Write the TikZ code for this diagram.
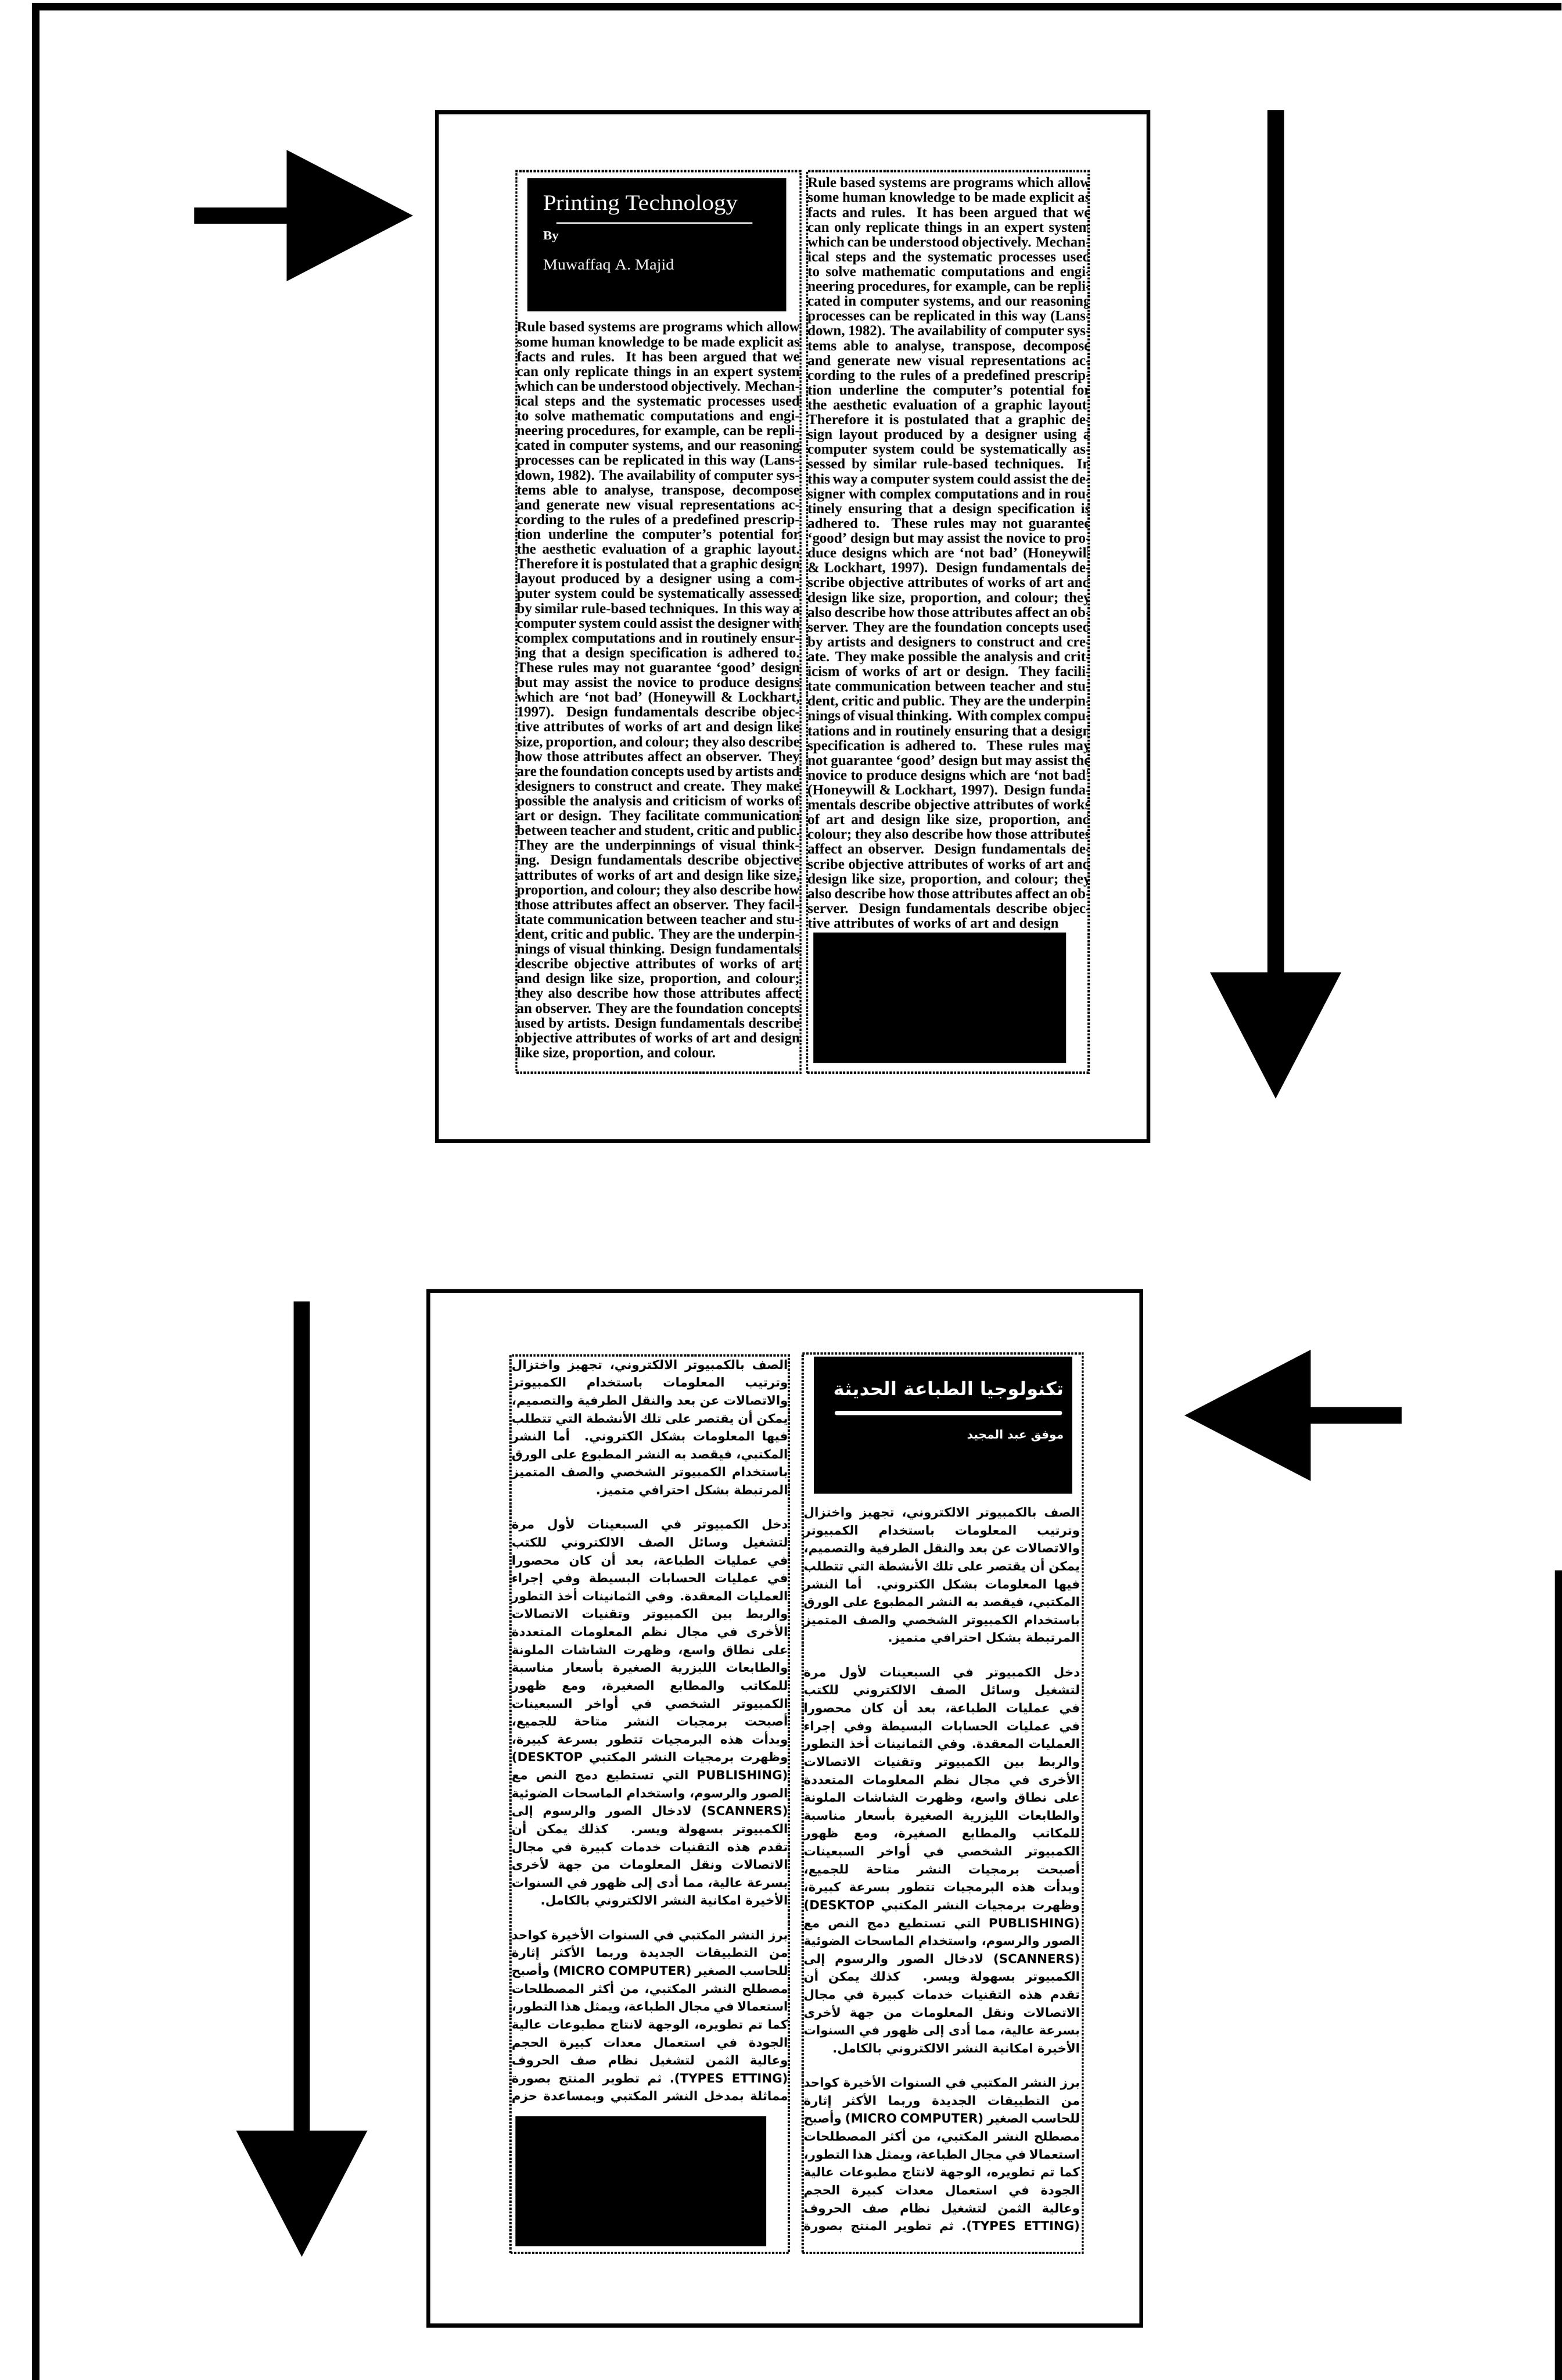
\documentclass[tikz,border=0pt]{standalone}
\usepackage{fontspec}
\setmainfont{Liberation Serif}
\newfontfamily\arabicfont[Script=Arabic]{DejaVu Sans}
\newfontfamily\titlefont[FakeStretch=1.08]{Liberation Serif}
\TeXXeTstate=1
\usetikzlibrary{arrows.meta}

% the same english text runs in both columns of the first page
\newcommand\rulebased{Rule based systems are programs which allow some human knowledge to be made explicit as facts and rules. It has been argued that we can only replicate things in an expert system which can be understood objectively. Mechanical steps and the systematic processes used to solve mathematic computations and engineering procedures, for example, can be replicated in computer systems, and our reasoning processes can be replicated in this way (Lansdown, 1982). The availability of computer systems able to analyse, transpose, decompose and generate new visual representations according to the rules of a predefined prescription underline the computer's potential for the aesthetic evaluation of a graphic layout. Therefore it is postulated that a graphic design layout produced by a designer using a computer system could be systematically assessed by similar rule-based techniques. In this way a computer system could assist the designer with complex computations and in routinely ensuring that a design specification is adhered to. These rules may not guarantee `good' design but may assist the novice to produce designs which are `not bad' (Honeywill \& Lockhart, 1997). Design fundamentals describe objective attributes of works of art and design like size, proportion, and colour; they also describe how those attributes affect an observer. They are the foundation concepts used by artists and designers to construct and create. They make possible the analysis and criticism of works of art or design. They facilitate communication between teacher and student, critic and public. They are the underpinnings of visual thinking.}
\newcommand\fundamentals{Design fundamentals describe objective attributes of works of art and design like size, proportion, and colour; they also describe how those attributes affect an observer. They facilitate communication between teacher and student, critic and public. They are the underpinnings of visual thinking. Design fundamentals describe objective attributes of works of art and design like size, proportion, and colour; they also describe how those attributes affect an observer. They are the foundation concepts used by artists. Design fundamentals describe objective attributes of works of art and design like size, proportion, and colour.}
\newcommand\adheredto{With complex computations and in routinely ensuring that a design specification is adhered to. These rules may not guarantee `good' design but may assist the novice to produce designs which are `not bad' (Honeywill \& Lockhart, 1997). Design fundamentals describe objective attributes of works of art and design like size, proportion, and colour; they also describe how those attributes affect an observer. Design fundamentals describe objective attributes of works of art and design like size, proportion, and colour; they also describe how those attributes affect an observer. Design fundamentals describe objective attributes of works of art and design}

% the same arabic text runs in both columns of the second page
\newcommand\arabicone{\noindent\beginR الصف بالكمبيوتر الالكتروني، تجهيز واختزال وترتيب المعلومات باستخدام الكمبيوتر والاتصالات عن بعد والنقل الطرفية والتصميم، يمكن أن يقتصر على تلك الأنشطة التي تتطلب فيها المعلومات بشكل الكتروني. أما النشر المكتبي، فيقصد به النشر المطبوع على الورق باستخدام الكمبيوتر الشخصي والصف المتميز المرتبطة بشكل احترافي متميز.\par}
\newcommand\arabictwo{\noindent\beginR دخل الكمبيوتر في السبعينات لأول مرة لتشغيل وسائل الصف الالكتروني للكتب في عمليات الطباعة، بعد أن كان محصورا في عمليات الحسابات البسيطة وفي إجراء العمليات المعقدة. وفي الثمانينات أخذ التطور والربط بين الكمبيوتر وتقنيات الاتصالات الأخرى في مجال نظم المعلومات المتعددة على نطاق واسع، وظهرت الشاشات الملونة والطابعات الليزرية الصغيرة بأسعار مناسبة للمكاتب والمطابع الصغيرة، ومع ظهور الكمبيوتر الشخصي في أواخر السبعينات أصبحت برمجيات النشر متاحة للجميع، وبدأت هذه البرمجيات تتطور بسرعة كبيرة، وظهرت برمجيات النشر المكتبي \beginL(DESKTOP PUBLISHING)\endL{} التي تستطيع دمج النص مع الصور والرسوم، واستخدام الماسحات الضوئية \beginL(SCANNERS)\endL{} لادخال الصور والرسوم إلى الكمبيوتر بسهولة ويسر. كذلك يمكن أن تقدم هذه التقنيات خدمات كبيرة في مجال الاتصالات ونقل المعلومات من جهة لأخرى بسرعة عالية، مما أدى إلى ظهور في السنوات الأخيرة امكانية النشر الالكتروني بالكامل.\par}
\newcommand\arabicthree{\noindent\beginR برز النشر المكتبي في السنوات الأخيرة كواحد من التطبيقات الجديدة وربما الأكثر إثارة للحاسب الصغير \beginL(MICRO COMPUTER)\endL{} وأصبح مصطلح النشر المكتبي، من أكثر المصطلحات استعمالا في مجال الطباعة، ويمثل هذا التطور، كما تم تطويره، الوجهة لانتاج مطبوعات عالية الجودة في استعمال معدات كبيرة الحجم وعالية الثمن لتشغيل نظام صف الحروف \beginL(TYPES ETTING)\endL. ثم تطوير المنتج بصورة مماثلة بمدخل النشر المكتبي وبمساعدة حزم البرمجيات البسيطة فيما الشخصي ويمكن النشر المكتبي واحدا من أهم التطبيقات.\par}

\begin{document}
\begin{tikzpicture}[
    frame/.style={line width=5.7pt},
    page/.style={draw, line width=2.8pt, anchor=north west, inner sep=0pt},
    column/.style={draw, densely dotted, line width=1.6pt, anchor=north west, inner sep=0pt},
    block/.style={fill=black, anchor=north west, inner sep=0pt},
    bigarrow/.style={line width=12pt, -{Triangle[length=92pt,width=92pt]}},
    entext/.style={anchor=north west, inner sep=0pt, text width=7.22cm, align=justify,
      font=\bfseries\fontsize{10.5}{10.75}\selectfont},
    artext/.style={anchor=north west, inner sep=0pt, text width=7.05cm, align=justify,
      font=\arabicfont\bfseries\fontsize{9}{13}\selectfont},
  ]
  \useasboundingbox (0,0) rectangle (39.85,-60.72);

  % outer frame, cut by the scan on the right
  \draw[frame] (39.85,-0.17) -- (0.91,-0.17) -- (0.91,-60.72);
  \draw[frame] (39.78,-40.06) -- (39.78,-60.72);

  % english page
  \node[page, minimum width=18.15cm, minimum height=26.25cm] (pageEN) at (11.1,-2.81) {};
  \node[column, minimum width=7.25cm, minimum height=23cm] (colENa) at (13.15,-4.34) {};
  \node[column, minimum width=7.18cm, minimum height=23cm] (colENb) at (20.57,-4.34) {};
  \node[block, minimum width=6.6cm, minimum height=3.41cm] (headEN) at (13.45,-4.53) {};
  \node[block, minimum width=6.45cm, minimum height=3.33cm] (photoEN) at (20.75,-23.78) {};

  \node[anchor=base west, inner sep=0pt, text=white, font=\titlefont\fontsize{16}{18}\selectfont] (titleEN) at (13.85,-5.36) {Printing Technology};
  \draw[white, line width=1pt] (14.2,-5.69) -- (19.2,-5.69);
  \node[anchor=base west, inner sep=0pt, text=white, font=\titlefont\bfseries\fontsize{9}{10}\selectfont] (byEN) at (13.85,-6.11) {By};
  \node[anchor=base west, inner sep=0pt, text=white, font=\titlefont\fontsize{11}{13}\selectfont] (authorEN) at (13.85,-6.88) {Muwaffaq A. Majid};

  \begin{scope}
    \clip (13.15,-8.1) rectangle (20.4,-27.3);
    \node[entext] (bodyENa) at (13.18,-8.2) {\rulebased{} \fundamentals};
  \end{scope}
  \begin{scope}
    \clip (20.57,-4.4) rectangle (27.75,-23.72);
    \node[entext] (bodyENb) at (20.6,-4.52) {\rulebased{} \adheredto};
  \end{scope}

  % arabic page
  \node[page, minimum width=18.19cm, minimum height=26.39cm] (pageAR) at (10.88,-32.89) {};
  \node[column, minimum width=7.1cm, minimum height=22.9cm] (colARa) at (13,-34.55) {};
  \node[column, minimum width=7.15cm, minimum height=22.95cm] (colARb) at (20.45,-34.5) {};
  \node[block, minimum width=6.4cm, minimum height=3.31cm] (photoAR) at (13.15,-53.99) {};
  \node[block, minimum width=6.59cm, minimum height=3.5cm] (headAR) at (20.76,-34.6) {};

  \node[anchor=base east, inner sep=0pt, text=white, font=\arabicfont\bfseries\fontsize{13.5}{15}\selectfont] (titleAR) at (27.15,-35.6) {\beginR تكنولوجيا الطباعة الحديثة\endR};
  \draw[white, line width=3pt, line cap=round] (21.35,-36.05) -- (27.05,-36.05);
  \node[anchor=base east, inner sep=0pt, text=white, font=\arabicfont\bfseries\fontsize{8.5}{10}\selectfont] (authorAR) at (27.15,-36.7) {\beginR موفق عبد المجيد\endR};

  \begin{scope}
    \clip (13,-34.6) rectangle (20.1,-53.65);
    \node[artext] (bodyARa) at (13.05,-34.68) {\arabicone\vspace{12pt}\arabictwo\vspace{12pt}\arabicthree};
  \end{scope}
  \begin{scope}
    \clip (20.45,-38.2) rectangle (27.6,-57.07);
    \node[artext] (bodyARb) at (20.5,-38.45) {\arabicone\vspace{12pt}\arabictwo\vspace{12pt}\arabicthree};
  \end{scope}

  % arrows showing the reading order
  \coordinate (inEN) at (4.95,-5.5);
  \coordinate (tipEN) at (10.55,-5.5);
  \coordinate (downENtop) at (32.55,-2.81);
  \coordinate (downENtip) at (32.55,-28.04);
  \coordinate (inAR) at (35.76,-36.11);
  \coordinate (tipAR) at (30.21,-36.11);
  \coordinate (downARtop) at (7.7,-33.2);
  \coordinate (downARtip) at (7.7,-57.59);

  \draw[bigarrow] (inEN) -- (tipEN);
  \draw[bigarrow] (downENtop) -- (downENtip);
  \draw[bigarrow] (inAR) -- (tipAR);
  \draw[bigarrow] (downARtop) -- (downARtip);
\end{tikzpicture}
\end{document}
